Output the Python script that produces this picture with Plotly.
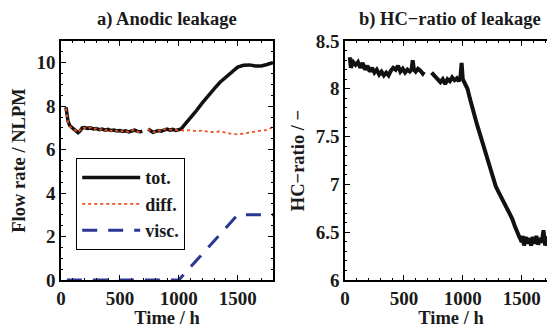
import plotly.graph_objects as go
from plotly.subplots import make_subplots

# ---------------- data ----------------
# a) Anodic leakage – total flow rate (NLPM); None = measurement gap
t_tot = [42, 50, 60, 75, 100, 125, 145, 160, 180, 200, 225, 250, 275, 300, 325, 350, 375, 400,
         425, 450, 475, 500, 525, 550, 575, 600, 625, 650, 675, 690, 715,
         740, 760, 780, 800, 825, 850, 875, 900, 925, 950, 975, 1000, 1020, 1050, 1100, 1150,
         1200, 1250, 1300, 1350, 1400, 1450, 1500, 1550, 1600, 1650, 1700, 1750, 1800]
v_tot = [7.95, 7.6, 7.3, 7.1, 7.0, 6.9, 6.78, 6.85, 7.0, 7.02, 6.98, 7.0, 6.95, 6.97, 6.92, 6.95, 6.9, 6.93,
         6.88, 6.9, 6.86, 6.88, 6.84, 6.87, 6.82, 6.86, 6.9, 6.84, 6.82, 6.85, None,
         6.95, 6.85, 6.8, 6.83, 6.88, 6.85, 6.92, 6.95, 6.9, 6.93, 6.88, 6.9, 6.95, 7.15, 7.45, 7.8,
         8.15, 8.5, 8.8, 9.1, 9.35, 9.6, 9.8, 9.88, 9.9, 9.85, 9.85, 9.92, 10.0]

# diffusive part
t_diff = [42, 50, 60, 75, 100, 125, 145, 160, 180, 200, 225, 250, 275, 300, 325, 350, 375, 400,
          425, 450, 475, 500, 525, 550, 575, 600, 625, 650, 675, 690, 715,
          740, 760, 780, 800, 825, 850, 875, 900, 925, 950, 975, 1000, 1050, 1100, 1150,
          1200, 1250, 1300, 1350, 1400, 1450, 1500, 1550, 1600, 1650, 1700, 1750, 1800]
v_diff = [7.9, 7.55, 7.25, 7.05, 6.98, 6.88, 6.8, 6.88, 7.02, 7.0, 6.96, 7.02, 6.93, 6.98, 6.9, 6.96, 6.88, 6.95,
          6.86, 6.92, 6.85, 6.9, 6.83, 6.88, 6.8, 6.88, 6.92, 6.82, 6.84, 6.83, None,
          6.97, 6.83, 6.82, 6.81, 6.9, 6.84, 6.94, 6.93, 6.92, 6.91, 6.9, 6.88, 6.88, 6.9, 6.85,
          6.88, 6.82, 6.8, 6.85, 6.78, 6.72, 6.7, 6.75, 6.8, 6.82, 6.88, 6.9, 7.05]

# viscous part
t_visc = [50, 1000, 1500, 1800]
v_visc = [0, 0, 3, 3]

# b) HC-ratio of leakage
t_hc = [40, 50, 70, 90, 110, 130, 150, 170, 190, 210, 230, 250, 270, 290, 310, 330, 350, 370,
        390, 410, 430, 450, 470, 490, 510, 530, 550, 565, 575, 585, 600, 620, 640, 660, 670, 700,
        735, 750, 770, 790, 810, 830, 850, 870, 890, 910, 930, 950, 965, 980, 990, 1000, 1020,
        1040, 1060, 1080, 1100, 1120, 1140, 1160, 1180, 1200, 1220, 1240, 1260, 1280, 1300,
        1320, 1340, 1360, 1380, 1400, 1420, 1440, 1460, 1480, 1500, 1510, 1520, 1535, 1550,
        1565, 1580, 1595, 1610, 1625, 1640, 1655, 1670, 1685, 1700, 1715, 1730, 1745, 1760,
        1775, 1790, 1800]
v_hc = [8.33, 8.22, 8.28, 8.25, 8.28, 8.22, 8.27, 8.2, 8.24, 8.18, 8.22, 8.17, 8.2, 8.15, 8.18, 8.14, 8.17, 8.14,
        8.19, 8.22, 8.2, 8.24, 8.18, 8.21, 8.17, 8.2, 8.18, 8.2, 8.3, 8.2, 8.18, 8.21, 8.19, 8.16, 8.18, None,
        8.17, 8.15, 8.12, 8.1, 8.07, 8.1, 8.05, 8.1, 8.08, 8.12, 8.09, 8.11, 8.08, 8.12, 8.27, 8.1, 8.06,
        8.0, 7.9, 7.8, 7.7, 7.63, 7.55, 7.47, 7.38, 7.28, 7.2, 7.12, 7.05, 6.98, 6.93,
        6.88, 6.85, 6.8, 6.75, 6.7, 6.64, 6.57, 6.5, 6.45, 6.4, 6.46, 6.36, 6.45, 6.38,
        6.44, 6.36, 6.45, 6.38, 6.46, 6.37, 6.44, 6.39, 6.52, 6.36, 6.45, 6.42, 6.5, 6.52,
        6.6, 6.68, 6.72]

x_ticks = [0, 500, 1000, 1500]
y1_ticks = [0, 2, 4, 6, 8, 10]
y2_ticks = [6, 6.5, 7, 7.5, 8, 8.5]
y2_ticklabels = ["6", "6.5", "7", "7.5", "8", "8.5"]

# ---------------- figure ----------------
# the page body adds an 8px offset, so figure coords = window coords - 8
W, H = 549, 320
FONT = "Liberation Serif"
TXT = "#1a1a1a"
fig = make_subplots(rows=1, cols=2)

fig.add_trace(go.Scatter(x=t_tot, y=v_tot, mode="lines", name="tot.",
                         line=dict(color="#111111", width=3.5), connectgaps=False), 1, 1)
fig.add_trace(go.Scatter(x=t_diff, y=v_diff, mode="lines", name="diff.",
                         line=dict(color="#F0501E", width=1.8, dash="dot"), connectgaps=False), 1, 1)
fig.add_trace(go.Scatter(x=t_visc, y=v_visc, mode="lines", name="visc.",
                         line=dict(color="#2A3594", width=3, dash="15px,11px")), 1, 1)
fig.add_trace(go.Scatter(x=t_hc, y=v_hc, mode="lines", showlegend=False,
                         line=dict(color="#111111", width=4), connectgaps=False), 1, 2)

top, bottom = 33, 272
ph = bottom - top
L1, R1 = 53, 265
L2 = 337

axis_common = dict(showline=True, linecolor="black", linewidth=1.5, mirror="ticks",
                   ticks="inside", ticklen=5, tickcolor="black", showgrid=False, zeroline=False,
                   automargin=False,
                   tickfont=dict(family=FONT, size=19, color=TXT, weight="bold"))

fig.update_xaxes(**axis_common)
fig.update_yaxes(**axis_common)

fig.update_layout(
    template="none",
    width=W, height=H,
    margin=dict(l=0, r=0, t=top, b=H - bottom, pad=0, autoexpand=False),
    paper_bgcolor="white", plot_bgcolor="white",
    font=dict(family=FONT, size=18, color=TXT, weight="bold"),
    xaxis=dict(domain=[L1 / W, R1 / W], range=[0, 1800], tickvals=x_ticks,
               minor=dict(ticks="inside", ticklen=2, dtick=100, tickcolor="black"),
               title=dict(text="Time / h", standoff=0, font=dict(size=18.5))),
    xaxis2=dict(domain=[L2 / W, 1.0], range=[0, 1800], tickvals=x_ticks,
                minor=dict(ticks="inside", ticklen=2, dtick=100, tickcolor="black"),
                title=dict(text="Time / h", standoff=0, font=dict(size=18.5))),
    yaxis=dict(range=[0, 11], tickvals=y1_ticks,
               minor=dict(ticks="inside", ticklen=2, dtick=0.5, tickcolor="black"),
               title=dict(text="Flow rate / NLPM", standoff=6, font=dict(size=18.5))),
    yaxis2=dict(range=[6, 8.5], tickvals=y2_ticks, ticktext=y2_ticklabels,
                minor=dict(ticks="inside", ticklen=2, dtick=0.1, tickcolor="black"),
                title=dict(text="HC\u2212ratio / \u2212", standoff=6, font=dict(size=18.5))),
    legend=dict(x=68 / W, y=(bottom - 150) / ph, xanchor="left", yanchor="top",
                bgcolor="white", bordercolor="black", borderwidth=1.2,
                font=dict(family=FONT, size=18, color=TXT, weight="bold"),
                itemwidth=58, tracegroupgap=0),
    showlegend=True,
)

fig.add_annotation(text="a) Anodic leakage", xref="paper", yref="paper",
                   x=159 / W, y=(bottom - 11) / ph, xanchor="center", yanchor="middle",
                   showarrow=False, font=dict(family=FONT, size=18.5, color=TXT, weight="bold"))
fig.add_annotation(text="b) HC\u2212ratio of leakage", xref="paper", yref="paper",
                   x=442 / W, y=(bottom - 11) / ph, xanchor="center", yanchor="middle",
                   showarrow=False, font=dict(family=FONT, size=18.5, color=TXT, weight="bold"))

fig.write_html("out.html")
